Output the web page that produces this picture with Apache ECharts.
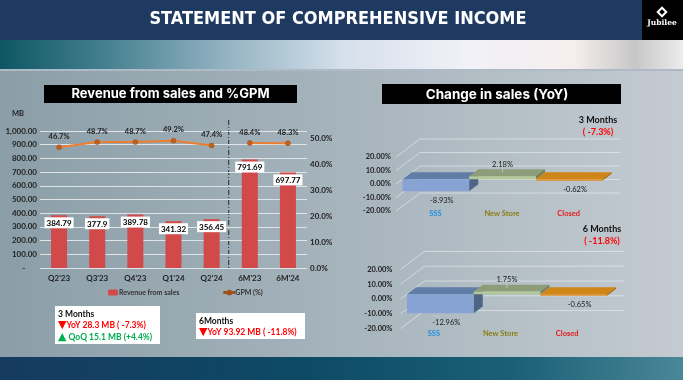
<!DOCTYPE html>
<html><head><meta charset="utf-8">
<script src="https://cdn.jsdelivr.net/npm/echarts@6/dist/echarts.min.js"></script>
<style>
html,body{margin:0;padding:0;width:683px;height:380px;overflow:hidden}
#c{width:683px;height:380px;
background:
 linear-gradient(#1f3a60,#1f3a60) 0 0/683px 40px no-repeat,
 linear-gradient(90deg,#0e5663 0%,#3f7c8c 14%,#8fb0bf 32%,#d4dfeb 50%,#f1f1f7 68%,#f5eeee 84%,#c7c7c7 93%,#ececec 100%) 0 40px/683px 29px no-repeat,
 linear-gradient(#aebbc6,#aebbc6) 0 69px/683px 2px no-repeat,
 linear-gradient(90deg,#163a60 0%,#0d4a66 45%,#1b5f76 75%,#4a8797 100%) 0 357px/683px 23px no-repeat,
 linear-gradient(90deg,#8b9ea8 0%,#a6b4bc 50%,#c4cbd1 100%) 0 71px/683px 286px no-repeat;}
</style>
</head><body><div id="c"></div>
<script>
// ---- data ----
const categories = ["Q2'23","Q3'23","Q4'23","Q1'24","Q2'24","6M'23","6M'24"];
const revenue = [384.79, 377.9, 389.78, 341.32, 356.45, 791.69, 697.77];
const gpm = [46.7, 48.7, 48.7, 49.2, 47.4, 48.4, 48.3];
const periods = ['Q','Q','Q','Q','Q','6M','6M'];
const changeCats = ['SSS', 'New Store', 'Closed'];
const change3M = [-8.93, 2.18, -0.62];
const change6M = [-12.96, 1.75, -0.65];
const pctTicks = [-20, -10, 0, 10, 20];

// ---- styling ----
const F = 'Lato, "Open Sans", sans-serif';
const catColors = ['#1f8fe0', '#8a7d10', '#e31b1b'];
const boxColors = [
  {front:'#86a3d3', top:'#5f7da7', side:'#4d6686'},
  {front:'#b1c997', top:'#8e9d79', side:'#6f7d5d'},
  {front:'#e08e22', top:'#d08519', side:'#a86812'}
];
const DX = 24, DY = -18, T1 = 0.27, T2 = 0.65;

function wallItem(params, api) {
  const v = api.value(1);
  const n = changeCats.length;
  const w = api.size([1, 0])[0];
  const a = api.coord([0, v]), b = api.coord([n - 1, v]);
  const xl = a[0] - w / 2, xr = b[0] + w / 2, y = a[1];
  return {type:'polyline', shape:{points:[[xl, y], [xl + DX, y + DY], [xr + DX, y + DY]]},
    style:{stroke:'rgba(236,240,244,0.75)', lineWidth:0.8, fill:null}};
}
function boxItem(params, api) {
  const i = api.value(0), v = api.value(1);
  const w = api.size([1, 0])[0];
  const c0 = api.coord([i, 0]), cv = api.coord([i, v]);
  const xl = c0[0] - w / 2, xr = c0[0] + w / 2;
  const yt = Math.min(c0[1], cv[1]), yb = Math.max(c0[1], cv[1]);
  const f = [DX * T1, DY * T1], bk = [DX * T2, DY * T2];
  const col = boxColors[i];
  const h = Math.max(yb - yt, 1.5);
  const ch = [
    {type:'polygon', shape:{points:[[xl+f[0],yt+f[1]],[xr+f[0],yt+f[1]],[xr+bk[0],yt+bk[1]],[xl+bk[0],yt+bk[1]]]}, style:{fill:col.top}},
    {type:'polygon', shape:{points:[[xr+f[0],yt+f[1]],[xr+bk[0],yt+bk[1]],[xr+bk[0],yt+h+bk[1]],[xr+f[0],yt+h+f[1]]]}, style:{fill:col.side}},
    {type:'rect', shape:{x:xl+f[0], y:yt+f[1], width:w, height:h}, style:{fill:col.front}}
  ];
  const txt = v.toFixed(2) + '%';
  let lx, ly;
  if (v < 0) {
    lx = c0[0] + f[0] + 6; ly = yt + h + f[1] + 9;
    ch.push({type:'line', shape:{x1:lx-6, y1:ly-5, x2:lx-12, y2:ly-7}, style:{stroke:'rgba(200,205,210,0.9)', lineWidth:0.8}});
  } else {
    lx = c0[0] + f[0]; ly = yt + bk[1] - 5;
    ch.push({type:'line', shape:{x1:lx, y1:ly+4, x2:lx, y2:yt+(f[1]+bk[1])/2}, style:{stroke:'rgba(200,205,210,0.9)', lineWidth:0.8}});
  }
  ch.push({type:'text', x:lx, y:ly, style:{text:txt, fill:'#1a1a1a', font:'7.5px ' + F, align:'center', verticalAlign:'middle'}});
  return {type:'group', children:ch};
}

const chart = echarts.init(document.getElementById('c'), null, {renderer:'canvas'});
const axLbl = {fontSize:8, fontWeight:'bold', color:'#222', fontFamily:F};
const axLbl3D = {fontSize:7.5, fontWeight:'bold', color:'#222', fontFamily:F};
const catAxis3D = (gi, margin, shift) => ({
  type:'category', gridIndex:gi, data:changeCats,
  axisLine:{show:false}, axisTick:{show:false}, splitLine:{show:false},
  axisLabel:{margin:margin, interval:0, hideOverlap:false, padding:[0, 0, 0, shift],
    formatter:(v, i) => '{c' + i + '|' + v + '}',
    rich:{c0:{color:catColors[0], fontSize:7.5, fontWeight:'bold', fontFamily:F},
          c1:{color:catColors[1], fontSize:7.5, fontWeight:'bold', fontFamily:F},
          c2:{color:catColors[2], fontSize:7.5, fontWeight:'bold', fontFamily:F}}}
});
const valAxis3D = (gi, margin) => ({
  type:'value', gridIndex:gi, min:-20, max:20, interval:10,
  axisLine:{show:false}, axisTick:{show:false}, splitLine:{show:false},
  axisLabel:Object.assign({margin:margin, formatter:v => v.toFixed(2) + '%'}, axLbl3D)
});

const option = {
  animation:false,
  textStyle:{fontFamily:F},
  grid:[
    {left:40, top:131, width:267, height:137},
    {left:396, top:157, width:200, height:54},
    {left:400.5, top:269.4, width:200, height:59.2}
  ],
  legend:{
    left:103, top:284, itemWidth:10, itemHeight:6, itemGap:44,
    data:[{name:'Revenue from sales'},
          {name:'GPM (%)', icon:'path://M0,4.4L14,4.4L14,5.6L0,5.6Z M9.6,5A2.6,2.6 0 1,1 4.4,5A2.6,2.6 0 1,1 9.6,5Z',
           itemStyle:{color:'#e0711f'}}],
    textStyle:{fontSize:7, fontWeight:'bold', color:'#333', fontFamily:F, padding:[0,0,0,-4]}
  },
  xAxis:[
    {type:'category', gridIndex:0, data:categories, axisLine:{show:false}, axisTick:{show:false},
     axisLabel:Object.assign({margin:6, interval:0}, axLbl)},
    catAxis3D(1, -1, 12),
    catAxis3D(2, 1, 0)
  ],
  yAxis:[
    {type:'value', gridIndex:0, min:0, max:1000, interval:100,
     axisLine:{show:false}, axisTick:{show:false},
     splitLine:{lineStyle:{color:'#dfe4e7', width:1}},
     axisLabel:Object.assign({margin:3, formatter:v => v === 0 ? '-      ' :
       v.toLocaleString('en-US', {minimumFractionDigits:2, maximumFractionDigits:2})}, axLbl)},
    {type:'value', gridIndex:0, min:0, max:53, interval:10, position:'right',
     axisLine:{show:false}, axisTick:{show:false}, splitLine:{show:false},
     axisLabel:Object.assign({margin:3, formatter:v => (v % 10 === 0) ? v.toFixed(1) + '%' : ''}, axLbl)},
    valAxis3D(1, 5),
    valAxis3D(2, 8)
  ],
  series:[
    {type:'bar', name:'Revenue from sales', xAxisIndex:0, yAxisIndex:0, data:revenue, barWidth:16,
     itemStyle:{color:'#d14949'},
     label:{show:true, position:'insideTop', distance:2, backgroundColor:'#ffffff', padding:[2,2,1,2],
       color:'#000', fontWeight:'bold', fontSize:8, fontFamily:F}},
    ...['Q', '6M'].map(p => ({
      type:'line', name:'GPM (%)', xAxisIndex:0, yAxisIndex:1,
      data:gpm.map((v, i) => periods[i] === p ? v : '-'),
      symbol:'circle', symbolSize:5, color:'#ed7d31',
      lineStyle:{color:'#ed7d31', width:2},
      itemStyle:{color:'#c0601a', borderColor:'#a0501a', borderWidth:0.5},
      label:{show:true, position:'top', distance:4, formatter:q => q.value.toFixed(1) + '%',
        color:'#222', fontWeight:'bold', fontSize:7.5, fontFamily:F}
    })),
    {type:'custom', xAxisIndex:1, yAxisIndex:2, clip:false, silent:true, z:1,
     data:pctTicks.map(v => [0, v]), renderItem:wallItem},
    {type:'custom', xAxisIndex:1, yAxisIndex:2, clip:false, z:3,
     data:change3M.map((v, i) => [i, v]), renderItem:boxItem},
    {type:'custom', xAxisIndex:2, yAxisIndex:3, clip:false, silent:true, z:1,
     data:pctTicks.map(v => [0, v]), renderItem:wallItem},
    {type:'custom', xAxisIndex:2, yAxisIndex:3, clip:false, z:3,
     data:change6M.map((v, i) => [i, v]), renderItem:boxItem}
  ],
  graphic:[
    {type:'text', x:338, y:19, style:{text:'STATEMENT OF COMPREHENSIVE INCOME', fill:'#ffffff',
      font:'bold 18px "DejaVu Sans Condensed", "Liberation Sans Narrow", sans-serif', align:'center', verticalAlign:'middle'}},
    {type:'rect', shape:{x:642, y:0, width:41, height:40}, style:{fill:'#000000'}},
    {type:'rect', x:662, y:12, rotation:Math.PI/4, shape:{x:-3, y:-3, width:6, height:6}, style:{fill:'none', stroke:'#fff', lineWidth:2}},
    {type:'text', x:662, y:23, style:{text:'Jubilee', fill:'#fff', font:'bold 7.5px "DejaVu Serif", serif', align:'center', verticalAlign:'middle'}},
    {type:'rect', shape:{x:44, y:85, width:253, height:18}, style:{fill:'#000'}},
    {type:'text', x:170.5, y:94.5, style:{text:'Revenue from sales and %GPM', fill:'#fff', font:'bold 13px Inter, sans-serif', align:'center', verticalAlign:'middle'}},
    {type:'rect', shape:{x:382, y:84, width:239, height:20}, style:{fill:'#000'}},
    {type:'text', x:497, y:94.5, style:{text:'Change in sales (YoY)', fill:'#fff', font:'bold 13.5px Inter, sans-serif', align:'center', verticalAlign:'middle'}},
    {type:'text', x:18, y:114, style:{text:'MB', fill:'#222', font:'bold 7.5px ' + F, align:'center', verticalAlign:'middle'}},
    {type:'text', x:598, y:120, style:{text:'3 Months', fill:'#111', font:'bold 9px ' + F, align:'center', verticalAlign:'middle'}},
    {type:'text', x:598, y:132, style:{text:'( -7.3%)', fill:'#ff0000', font:'bold 9px ' + F, align:'center', verticalAlign:'middle'}},
    {type:'text', x:602, y:229, style:{text:'6 Months', fill:'#111', font:'bold 9px ' + F, align:'center', verticalAlign:'middle'}},
    {type:'text', x:602, y:241, style:{text:'( -11.8%)', fill:'#ff0000', font:'bold 9px ' + F, align:'center', verticalAlign:'middle'}},
    {type:'rect', shape:{x:55, y:306, width:105, height:38}, style:{fill:'#fff'}},
    {type:'text', x:58, y:309, style:{
      text:'{k|3 Months}\n{t|▼}{r|YoY 28.3 MB ( -7.3%)}\n{u|▲}{g| QoQ 15.1 MB (+4.4%)}',
      rich:{k:{fill:'#111', font:'bold 8.5px ' + F, lineHeight:11},
            t:{fill:'#ff0000', font:'11px "DejaVu Sans", sans-serif', lineHeight:11},
            u:{fill:'#00b050', font:'11px "DejaVu Sans", sans-serif', lineHeight:12},
            r:{fill:'#ff0000', font:'bold 8.5px ' + F, lineHeight:11},
            g:{fill:'#00b050', font:'bold 8.5px ' + F, lineHeight:12}}}},
    {type:'rect', shape:{x:196, y:313, width:109, height:26}, style:{fill:'#fff'}},
    {type:'text', x:199, y:315, style:{
      text:'{k|6Months}\n{t|▼}{r|YoY 93.92 MB ( -11.8%)}',
      rich:{k:{fill:'#111', font:'bold 8.5px ' + F, lineHeight:12},
            t:{fill:'#ff0000', font:'11px "DejaVu Sans", sans-serif', lineHeight:11},
            r:{fill:'#ff0000', font:'bold 8.5px ' + F, lineHeight:11}}}}
  ]
};
chart.setOption(option);
const xa = chart.convertToPixel({xAxisIndex:0}, 4), xb = chart.convertToPixel({xAxisIndex:0}, 5);
const xm = (xa + xb) / 2 - 2;
chart.setOption({graphic:[{id:'divider', type:'line', shape:{x1:xm, y1:120, x2:xm, y2:270},
  style:{stroke:'#2a2a2a', lineWidth:1, lineDash:[5, 2, 1, 2]}}]});
</script>
</body></html>
